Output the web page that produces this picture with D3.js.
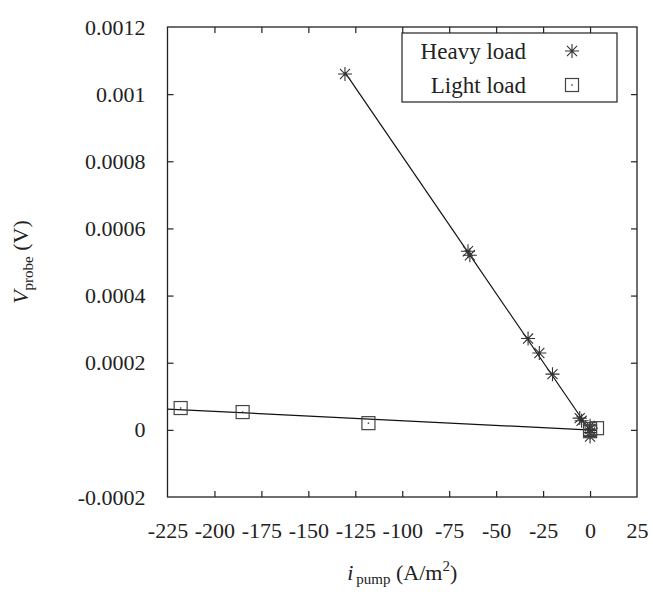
<!DOCTYPE html>
<html>
<head>
<meta charset="utf-8">
<script src="https://cdn.jsdelivr.net/npm/d3@7"></script>
<style>
  body { margin: 0; background: #fff; }
</style>
</head>
<body>
<div id="chart"></div>
<script>
// data
var heavyX = [-130.5, -65, -64, -33, -27, -20, -5.5, -4.5, 0, 0, 0, 0];
var heavyY = [0.00106, 0.000532, 0.00052, 0.000272, 0.000229, 0.000166, 0.000035, 0.000027, 0.000012, 0.000002, -0.000008, -0.00002];
var lightX = [-218, -185, -118, 3.7, 0, 0];
var lightY = [0.000065, 0.000053, 0.00002, 0.000005, 0.000002, -0.000004];
var xTicks = [-225, -200, -175, -150, -125, -100, -75, -50, -25, 0, 25];
var xTickLabels = ['-225', '-200', '-175', '-150', '-125', '-100', '-75', '-50', '-25', '0', '25'];
var yTicks = [-0.0002, 0, 0.0002, 0.0004, 0.0006, 0.0008, 0.001, 0.0012];
var yTickLabels = ['-0.0002', '0', '0.0002', '0.0004', '0.0006', '0.0008', '0.001', '0.0012'];
var seriesNames = ['Heavy load', 'Light load'];
// x-range each fitted line is drawn over
var heavyFitRange = [-130.5, 0];
var lightFitRange = [-225, 3.7];

var FONT = "'Liberation Serif', 'DejaVu Serif', serif";
var W = 653, H = 596;
var margin = {top: 27, right: 16, bottom: 99, left: 167.5};
var width = W - margin.left - margin.right;
var height = H - margin.top - margin.bottom;
var TICK = 6;

var svg = d3.select('#chart').append('svg')
  .attr('width', W)
  .attr('height', H)
  .style('font-family', FONT);

var g = svg.append('g')
  .attr('transform', 'translate(' + margin.left + ',' + margin.top + ')');

var x = d3.scaleLinear().domain([-225, 25]).range([0, width]);
var y = d3.scaleLinear().domain([-0.0002, 0.0012]).range([height, 0]);

function zip(xs, ys) {
  return xs.map(function(v, i) { return [v, ys[i]]; });
}
var heavy = zip(heavyX, heavyY);
var light = zip(lightX, lightY);

// least squares line
function fit(pts) {
  var mx = d3.mean(pts, function(d) { return d[0]; });
  var my = d3.mean(pts, function(d) { return d[1]; });
  var sxy = d3.sum(pts, function(d) { return (d[0] - mx) * (d[1] - my); });
  var sxx = d3.sum(pts, function(d) { return (d[0] - mx) * (d[0] - mx); });
  var b = sxy / sxx;
  return {b: b, a: my - b * mx};
}

// axes (inward ticks, mirrored)
var xb = g.append('g').attr('transform', 'translate(0,' + height + ')')
  .call(d3.axisBottom(x).tickValues(xTicks).tickSizeInner(-TICK).tickSizeOuter(0).tickPadding(25)
    .tickFormat(function(d, i) { return xTickLabels[i]; }));
var xt = g.append('g')
  .call(d3.axisTop(x).tickValues(xTicks).tickSizeInner(-TICK).tickSizeOuter(0).tickFormat(''));
var yl = g.append('g')
  .call(d3.axisLeft(y).tickValues(yTicks).tickSizeInner(-TICK).tickSizeOuter(0).tickPadding(22)
    .tickFormat(function(d, i) { return yTickLabels[i]; }));
var yr = g.append('g').attr('transform', 'translate(' + width + ',0)')
  .call(d3.axisRight(y).tickValues(yTicks).tickSizeInner(-TICK).tickSizeOuter(0).tickFormat(''));

[xb, xt, yl, yr].forEach(function(a) {
  a.attr('font-family', FONT);
  a.select('.domain').remove();
  a.selectAll('line').attr('stroke', '#222').attr('stroke-width', 1.2);
  a.selectAll('text').style('font-size', '22px').style('font-family', FONT).attr('fill', '#222');
});
// no tick marks at the corners
xb.selectAll('.tick').filter(function(d) { return d === -225 || d === 25; }).select('line').remove();
xt.selectAll('.tick').filter(function(d) { return d === -225 || d === 25; }).select('line').remove();
yl.selectAll('.tick').filter(function(d) { return d === -0.0002 || d === 0.0012; }).select('line').remove();
yr.selectAll('.tick').filter(function(d) { return d === -0.0002 || d === 0.0012; }).select('line').remove();

g.append('rect')
  .attr('width', width)
  .attr('height', height)
  .attr('fill', 'none')
  .attr('stroke', '#222')
  .attr('stroke-width', 1.3);

// fitted lines
var line = d3.line()
  .x(function(d) { return x(d[0]); })
  .y(function(d) { return y(d[1]); });

[[heavy, heavyFitRange], [light, lightFitRange]].forEach(function(s) {
  var f = fit(s[0]);
  var pts = s[1].map(function(v) { return [v, f.a + f.b * v]; });
  g.append('path')
    .datum(pts)
    .attr('d', line)
    .attr('fill', 'none')
    .attr('stroke', '#111')
    .attr('stroke-width', 1.2);
});

// markers
var STAR = 7, SQ = 6.5;
function star(sel) {
  sel.append('path')
    .attr('d', 'M' + (-STAR) + ',0H' + STAR + 'M0,' + (-STAR) + 'V' + STAR +
      'M' + (-STAR * 0.72) + ',' + (-STAR * 0.72) + 'L' + (STAR * 0.72) + ',' + (STAR * 0.72) +
      'M' + (-STAR * 0.72) + ',' + (STAR * 0.72) + 'L' + (STAR * 0.72) + ',' + (-STAR * 0.72))
    .attr('stroke', '#333')
    .attr('stroke-width', 1.1)
    .attr('fill', 'none');
}
function square(sel) {
  sel.append('rect')
    .attr('x', -SQ).attr('y', -SQ)
    .attr('width', SQ * 2).attr('height', SQ * 2)
    .attr('fill', 'none')
    .attr('stroke', '#444')
    .attr('stroke-width', 1.2);
  sel.append('rect')
    .attr('x', -0.7).attr('y', -0.7).attr('width', 1.4).attr('height', 1.4)
    .attr('fill', '#333');
}

g.selectAll('.heavy')
  .data(heavy)
  .enter().append('g')
  .attr('class', 'heavy')
  .attr('transform', function(d) { return 'translate(' + x(d[0]) + ',' + y(d[1]) + ')'; })
  .call(star);

g.selectAll('.light')
  .data(light)
  .enter().append('g')
  .attr('class', 'light')
  .attr('transform', function(d) { return 'translate(' + x(d[0]) + ',' + y(d[1]) + ')'; })
  .call(square);

// legend
var lg = svg.append('g');
lg.append('rect')
  .attr('x', 402).attr('y', 33)
  .attr('width', 215).attr('height', 69)
  .attr('fill', '#fff')
  .attr('stroke', '#222')
  .attr('stroke-width', 1.2);
seriesNames.forEach(function(name, i) {
  var cy = 51 + i * 34;
  lg.append('text')
    .attr('x', 526).attr('y', cy)
    .attr('dy', '0.35em')
    .attr('text-anchor', 'end')
    .attr('fill', '#222')
    .style('font-family', FONT)
    .style('font-size', '23px')
    .text(name);
  var m = lg.append('g').attr('transform', 'translate(572,' + cy + ')');
  if (i === 0) star(m); else square(m);
});

// axis titles
var xTitle = svg.append('text')
  .attr('x', margin.left + width / 2)
  .attr('y', 580)
  .attr('text-anchor', 'middle')
  .attr('fill', '#222')
  .style('font-family', FONT)
  .style('font-size', '22px');
xTitle.append('tspan').style('font-style', 'italic').text('i');
xTitle.append('tspan').style('font-size', '15px').attr('dx', 3).attr('dy', 4).text('pump');
xTitle.append('tspan').attr('dy', -4).text(' (A/m');
xTitle.append('tspan').style('font-size', '15px').attr('dy', -9).text('2');
xTitle.append('tspan').attr('dy', 9).text(')');

var yTitle = svg.append('text')
  .attr('transform', 'translate(28,' + (margin.top + height / 2) + ') rotate(-90)')
  .attr('text-anchor', 'middle')
  .attr('fill', '#222')
  .style('font-family', FONT)
  .style('font-size', '22px');
yTitle.append('tspan').style('font-style', 'italic').text('V');
yTitle.append('tspan').style('font-size', '15px').attr('dy', 5).text('probe');
yTitle.append('tspan').attr('dy', -5).text(' (V)');
</script>
</body>
</html>
